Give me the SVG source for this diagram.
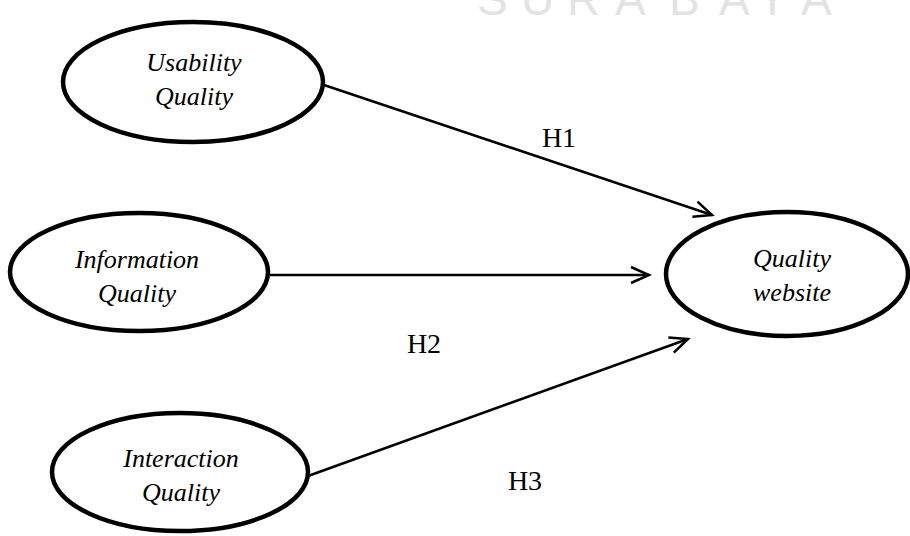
<svg xmlns="http://www.w3.org/2000/svg" width="910" height="536" viewBox="0 0 910 536">
<defs>
<style>
.node{fill:#fff;stroke:#000;stroke-width:4.5}
.lbl{font-family:"Liberation Serif","Times New Roman",serif;font-style:italic;font-size:26px;fill:#000;text-anchor:middle}
.h{font-family:"Liberation Serif","Times New Roman",serif;font-size:28px;fill:#000;text-anchor:middle}
.edge{stroke:#000;stroke-width:2.5;fill:none}
.wm{font-family:"Liberation Sans",Arial,sans-serif;font-size:46px;fill:#e3e3e3}
</style>
<marker id="arr" markerUnits="userSpaceOnUse" markerWidth="24" markerHeight="24" viewBox="0 0 24 24" refX="21" refY="12" orient="auto">
<path d="M3,4 L21,12 L3,20" fill="none" stroke="#000" stroke-width="2.5"/>
</marker>
</defs>
<text class="wm" x="477 508 521 552 567 600 615 646 669 700 719 750 757 788 801" y="15">S U R A B A Y A</text>
<g id="connectors">
<line class="edge" x1="324" y1="85" x2="712" y2="215" marker-end="url(#arr)"/>
<line class="edge" x1="270" y1="275" x2="649" y2="275" marker-end="url(#arr)"/>
<line class="edge" x1="308" y1="476" x2="688" y2="339" marker-end="url(#arr)"/>
<text class="h" x="559" y="147">H1</text>
<text class="h" x="424" y="353">H2</text>
<text class="h" x="525" y="490">H3</text>
</g>
<g id="usability">
<ellipse class="node" cx="193" cy="82" rx="130" ry="60"/>
<text class="lbl" x="194" y="71">Usability</text>
<text class="lbl" x="194" y="105">Quality</text>
</g>
<g id="information">
<ellipse class="node" cx="139" cy="272" rx="129" ry="59"/>
<text class="lbl" x="137" y="268">Information</text>
<text class="lbl" x="137" y="302">Quality</text>
</g>
<g id="interaction">
<ellipse class="node" cx="180" cy="472" rx="128" ry="59"/>
<text class="lbl" x="181" y="467">Interaction</text>
<text class="lbl" x="181" y="501">Quality</text>
</g>
<g id="quality-website">
<ellipse class="node" cx="787" cy="274" rx="121" ry="62"/>
<text class="lbl" x="792" y="267">Quality</text>
<text class="lbl" x="792" y="301">website</text>
</g>
</svg>
